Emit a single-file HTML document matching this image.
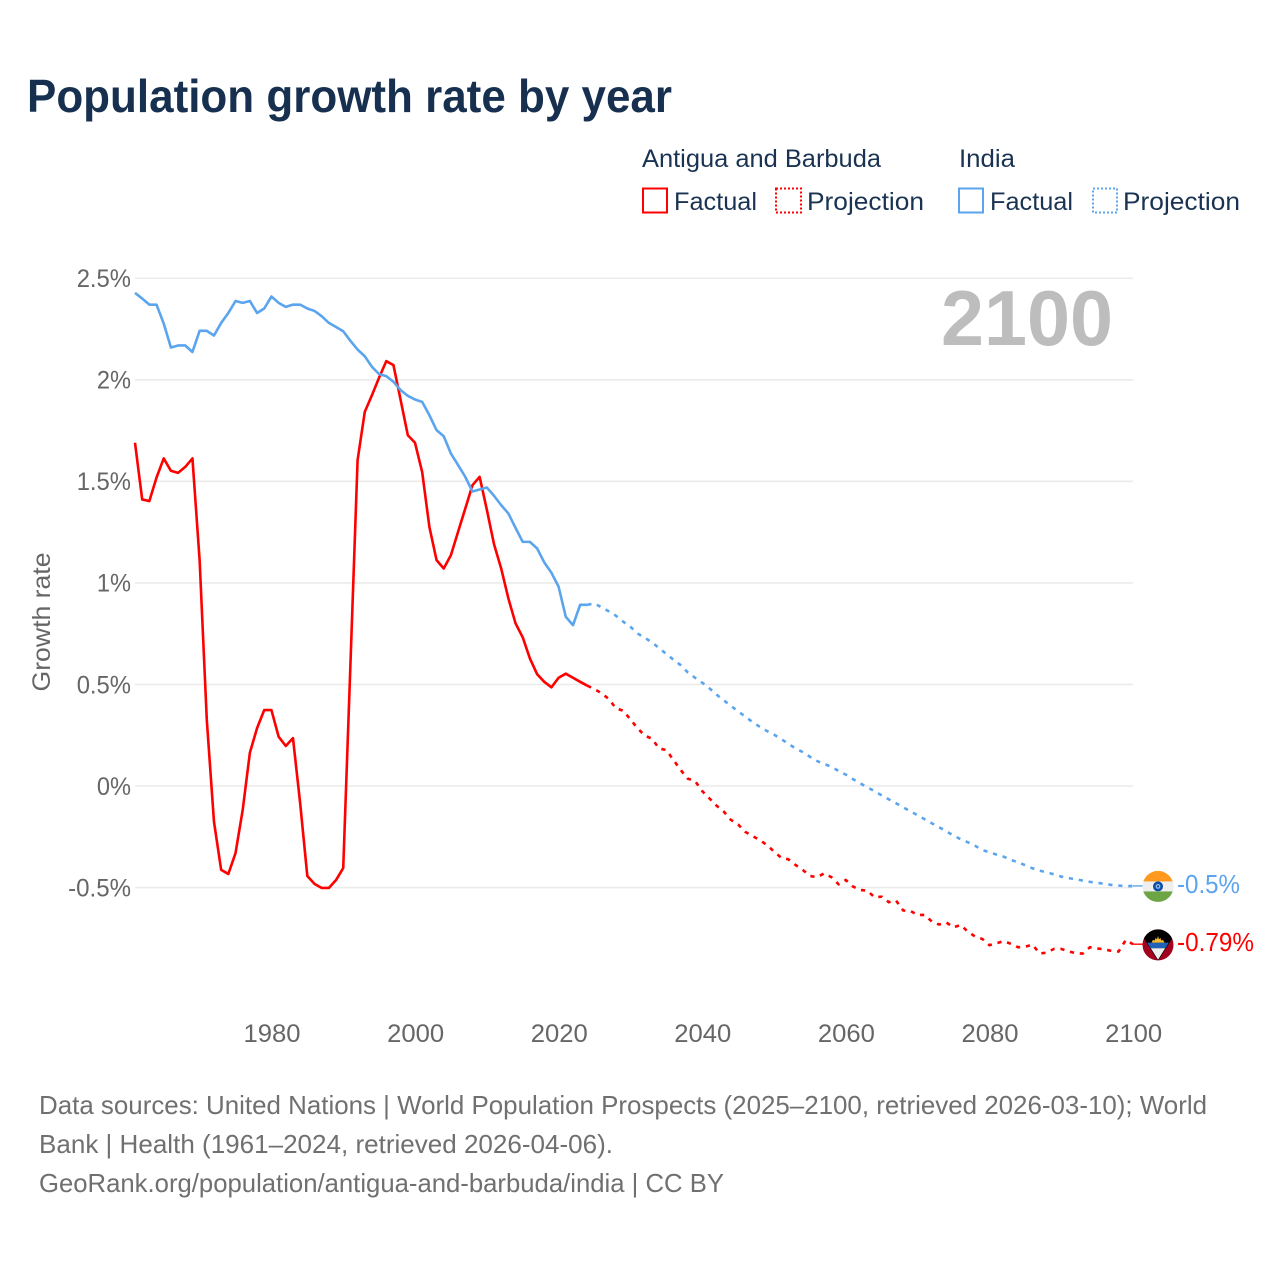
<!DOCTYPE html>
<html lang="en">
<head>
<meta charset="utf-8">
<title>Population growth rate by year</title>
<style>
html,body{margin:0;padding:0;background:#fff;}
svg{display:block;font-family:"Liberation Sans",sans-serif;}
</style>
</head>
<body>
<svg id="chart" xmlns="http://www.w3.org/2000/svg" width="1280" height="1280" viewBox="0 0 1280 1280">
  <rect x="0" y="0" width="1280" height="1280" fill="#ffffff"/>
  <text x="27" y="112" font-size="46" font-weight="700" fill="#17304f" textLength="645" lengthAdjust="spacingAndGlyphs">Population growth rate by year</text>

  <g font-size="25" fill="#1a3352">
    <text x="642" y="167" textLength="239" lengthAdjust="spacingAndGlyphs">Antigua and Barbuda</text>
    <text x="959" y="167" textLength="56" lengthAdjust="spacingAndGlyphs">India</text>
    <rect x="643" y="188.5" width="24" height="24" fill="none" stroke="#ff0000" stroke-width="2"/>
    <text x="674" y="210" textLength="83" lengthAdjust="spacingAndGlyphs">Factual</text>
    <rect x="776" y="188.5" width="25" height="24" fill="none" stroke="#ff0000" stroke-width="2" stroke-dasharray="2 2"/>
    <text x="807" y="210" textLength="117" lengthAdjust="spacingAndGlyphs">Projection</text>
    <rect x="959" y="188.5" width="24" height="24" fill="none" stroke="#5ba4ee" stroke-width="2"/>
    <text x="990" y="210" textLength="83" lengthAdjust="spacingAndGlyphs">Factual</text>
    <rect x="1093" y="188.5" width="24" height="24" fill="none" stroke="#5ba4ee" stroke-width="2" stroke-dasharray="2 2"/>
    <text x="1123" y="210" textLength="117" lengthAdjust="spacingAndGlyphs">Projection</text>
  </g>

  <g id="grid"></g>
  <g id="yticks"></g>
  <g id="xticks"></g>

  <text transform="translate(50 622) rotate(-90)" text-anchor="middle" font-size="25" fill="#666666" textLength="139" lengthAdjust="spacingAndGlyphs">Growth rate</text>
  <text x="941" y="345" font-size="78" font-weight="700" fill="#bdbdbd" textLength="172" lengthAdjust="spacingAndGlyphs">2100</text>

  <g id="series"></g>

  <defs>
    <clipPath id="flag-clip"><circle cx="0" cy="0" r="15.5"/></clipPath>
  </defs>

  <g id="flag-india">
    <g clip-path="url(#flag-clip)">
      <rect x="-16" y="-16" width="32" height="32" fill="#eeeeee"/>
      <rect x="-16" y="-16" width="32" height="11" fill="#ff9a1f"/>
      <rect x="-16" y="5" width="32" height="11" fill="#6da544"/>
      <circle cx="0" cy="0" r="5" fill="#0a4fa8"/>
      <circle cx="0" cy="0" r="2.4" fill="#9fbde6"/>
      <circle cx="0" cy="0" r="1.2" fill="#0a4fa8"/>
    </g>
  </g>

  <g id="flag-antigua">
    <g clip-path="url(#flag-clip)">
      <rect x="-16" y="-16" width="32" height="32" fill="#a2001d"/>
      <polygon points="-16,-16 16,-16 16,-9 14.5,-7 0,16 -14.5,-7 -16,-9" fill="#000000"/>
      <polygon points="-10.8,-2.3 10.8,-2.3 7.4,3.3 -7.4,3.3" fill="#1f62b8"/>
      <polygon points="-7.2,3.3 7.2,3.3 0,14.8" fill="#eeeeee"/>
      <polygon points="-6.5,-2.3 -5,-5 -3.2,-4.4 -2.5,-7 -1,-5.6 0,-9 1,-5.6 2.5,-7 3.2,-4.4 5,-5 6.5,-2.3" fill="#f4b92e"/>
    </g>
  </g>

  <g id="end-labels" font-size="26"></g>

  <g font-size="26" fill="#707070">
    <text x="39" y="1114" textLength="1168" lengthAdjust="spacingAndGlyphs">Data sources: United Nations | World Population Prospects (2025–2100, retrieved 2026-03-10); World</text>
    <text x="39" y="1153" textLength="574" lengthAdjust="spacingAndGlyphs">Bank | Health (1961–2024, retrieved 2026-04-06).</text>
    <text x="39" y="1192" textLength="685" lengthAdjust="spacingAndGlyphs">GeoRank.org/population/antigua-and-barbuda/india | CC BY</text>
  </g>
</svg>

<script>
const firstYear = 1961;
const lastFactualYear = 2024;
const yTickValues = [2.5, 2, 1.5, 1, 0.5, 0, -0.5];
const yTickLabels = ["2.5%", "2%", "1.5%", "1%", "0.5%", "0%", "-0.5%"];
const xTickYears = [1980, 2000, 2020, 2040, 2060, 2080, 2100];
const endLabelAntigua = "-0.79%";
const endLabelIndia = "-0.5%";

const antiguaValues = [
  1.690,1.411,1.403,1.519,1.613,1.552,1.542,1.571,1.613,
  1.112,0.325,-0.176,-0.413,-0.433,-0.330,-0.118,0.164,0.285,0.374,
  0.374,0.243,0.197,0.236,-0.084,-0.443,-0.482,-0.502,-0.502,-0.463,
  -0.404,0.595,1.604,1.842,1.924,2.011,2.092,2.072,1.900,1.727,
  1.690,1.545,1.276,1.112,1.071,1.137,1.252,1.366,1.481,1.522,
  1.361,1.191,1.071,0.924,0.801,0.732,0.628,0.551,0.513,0.486,
  0.533,0.553,0.533,0.513,0.494,0.477,
  0.456,0.428,0.382,0.371,0.328,0.284,0.248,0.233,0.185,0.177,
  0.128,0.079,0.036,0.025,-0.025,-0.061,-0.097,-0.126,-0.167,-0.189,
  -0.226,-0.246,-0.266,-0.290,-0.323,-0.353,-0.361,-0.389,-0.413,
  -0.443,-0.449,-0.430,-0.449,-0.484,-0.463,-0.495,-0.512,-0.515,-0.548,
  -0.545,-0.572,-0.564,-0.613,-0.615,-0.635,-0.635,-0.668,-0.682,-0.672,
  -0.696,-0.684,-0.717,-0.741,-0.753,-0.784,-0.774,-0.764,-0.777,-0.794,
  -0.791,-0.781,-0.825,-0.820,-0.802,-0.802,-0.814,-0.823,-0.825,-0.794,
  -0.800,-0.804,-0.812,-0.815,-0.758,-0.779
];

const indiaValues = [
  2.428,2.400,2.370,2.370,2.277,2.159,2.169,2.169,2.137,
  2.241,2.241,2.218,2.280,2.329,2.388,2.379,2.388,2.329,2.351,
  2.410,2.379,2.359,2.370,2.370,2.351,2.339,2.313,2.280,2.260,
  2.239,2.192,2.149,2.116,2.064,2.028,2.018,1.990,1.949,1.921,
  1.903,1.891,1.826,1.752,1.722,1.637,1.580,1.522,1.450,1.460,
  1.470,1.429,1.383,1.342,1.271,1.202,1.202,1.170,1.101,1.050,
  0.981,0.833,0.792,0.892,0.892,
  0.899,0.879,0.860,0.838,0.809,
  0.784,0.751,0.730,0.707,0.679,0.650,0.622,0.595,0.559,0.533,
  0.509,0.481,0.450,0.422,0.394,0.368,0.341,0.315,0.292,0.271,
  0.253,0.231,0.208,0.185,0.167,0.144,0.123,0.108,0.095,0.074,
  0.056,0.034,0.013,-0.006,-0.026,-0.046,-0.066,-0.085,-0.105,-0.125,
  -0.144,-0.164,-0.184,-0.203,-0.223,-0.244,-0.262,-0.277,-0.294,-0.315,
  -0.326,-0.338,-0.348,-0.364,-0.376,-0.390,-0.405,-0.417,-0.425,-0.435,
  -0.446,-0.454,-0.458,-0.466,-0.472,-0.476,-0.482,-0.487,-0.490,-0.494,
  -0.492
];

const NS = "http://www.w3.org/2000/svg";
const RED = "#ff0000";
const BLUE = "#5ba4ee";
const plotLeft = 135, plotRight = 1133;
const flagX = 1158;

function xScale(year) { return plotLeft + (year - 1961) * (plotRight - plotLeft) / 139; }
function yScale(v) { return 786 - v * 203.1; }
function labelWidth(s) {
  let w = 0;
  for (const c of s) {
    if (c === ".") w += 6;
    else if (c === "%") w += 20;
    else if (c === "-") w += 8.6;
    else w += 14.15;
  }
  return w;
}

const grid = document.getElementById("grid");
const yticks = document.getElementById("yticks");
yTickValues.forEach(function (v, i) {
  const line = document.createElementNS(NS, "line");
  line.setAttribute("x1", plotLeft);
  line.setAttribute("x2", plotRight);
  line.setAttribute("y1", yScale(v));
  line.setAttribute("y2", yScale(v));
  line.setAttribute("stroke", "#ebebeb");
  line.setAttribute("stroke-width", "1.6");
  
  
  grid.appendChild(line);

  const t = document.createElementNS(NS, "text");
  const w = labelWidth(yTickLabels[i]);
  t.setAttribute("x", 131 - w);
  t.setAttribute("y", yScale(v) + 8.8);
  t.setAttribute("font-size", "25");
  t.setAttribute("fill", "#666666");
  t.setAttribute("textLength", w);
  t.setAttribute("lengthAdjust", "spacingAndGlyphs");
  
  
  t.textContent = yTickLabels[i];
  yticks.appendChild(t);
});

const xticks = document.getElementById("xticks");
xTickYears.forEach(function (yr) {
  const t = document.createElementNS(NS, "text");
  t.setAttribute("x", xScale(yr) + 0.6 - 28.5);
  t.setAttribute("y", 1042);
  t.setAttribute("font-size", "25");
  t.setAttribute("fill", "#666666");
  t.setAttribute("textLength", 57);
  t.setAttribute("lengthAdjust", "spacingAndGlyphs");
  
  
  t.textContent = String(yr);
  xticks.appendChild(t);
});

function pathFor(values, fromYear, toYear) {
  const pts = [];
  for (let yr = fromYear; yr <= toYear; yr++) {
    pts.push(xScale(yr).toFixed(2) + "," + yScale(values[yr - firstYear]).toFixed(2));
  }
  return "M" + pts.join("L");
}

const seriesGroup = document.getElementById("series");
function drawSeries(values, color) {
  const endYear = firstYear + values.length - 1;

  const factual = document.createElementNS(NS, "path");
  factual.setAttribute("d", pathFor(values, firstYear, lastFactualYear));
  factual.setAttribute("fill", "none");
  factual.setAttribute("stroke", color);
  factual.setAttribute("stroke-width", "2.6");
  factual.setAttribute("stroke-linejoin", "round");
  
  
  seriesGroup.appendChild(factual);

  const proj = document.createElementNS(NS, "path");
  proj.setAttribute("d", pathFor(values, lastFactualYear, endYear));
  proj.setAttribute("fill", "none");
  proj.setAttribute("stroke", color);
  proj.setAttribute("stroke-width", "2.6");
  proj.setAttribute("stroke-dasharray", "4.2 5.8");
  
  
  seriesGroup.appendChild(proj);

  const conn = document.createElementNS(NS, "line");
  const endY = yScale(values[values.length - 1]);
  conn.setAttribute("x1", xScale(endYear));
  conn.setAttribute("x2", flagX);
  conn.setAttribute("y1", endY);
  conn.setAttribute("y2", endY);
  conn.setAttribute("stroke", color);
  conn.setAttribute("stroke-width", "1.4");
  
  
  seriesGroup.appendChild(conn);
}
drawSeries(antiguaValues, RED);
drawSeries(indiaValues, BLUE);

const antiguaEndY = yScale(antiguaValues[antiguaValues.length - 1]);
const indiaEndY = yScale(indiaValues[indiaValues.length - 1]);
document.getElementById("flag-antigua").setAttribute("transform", "translate(" + flagX + " " + (antiguaEndY + 0.7) + ")");
document.getElementById("flag-india").setAttribute("transform", "translate(" + flagX + " " + (indiaEndY + 0.5) + ")");

const endLabels = document.getElementById("end-labels");
function addEndLabel(label, yPos, color, width, name) {
  const t = document.createElementNS(NS, "text");
  t.setAttribute("x", 1177);
  t.setAttribute("y", yPos + 7);
  t.setAttribute("fill", color);
  t.setAttribute("textLength", width);
  t.setAttribute("lengthAdjust", "spacingAndGlyphs");
  
  
  t.textContent = label;
  endLabels.appendChild(t);
}
addEndLabel(endLabelIndia, indiaEndY, BLUE, 63, 'india-end-label');
addEndLabel(endLabelAntigua, antiguaEndY, RED, 77, 'antigua-end-label');
</script>
</body>
</html>
